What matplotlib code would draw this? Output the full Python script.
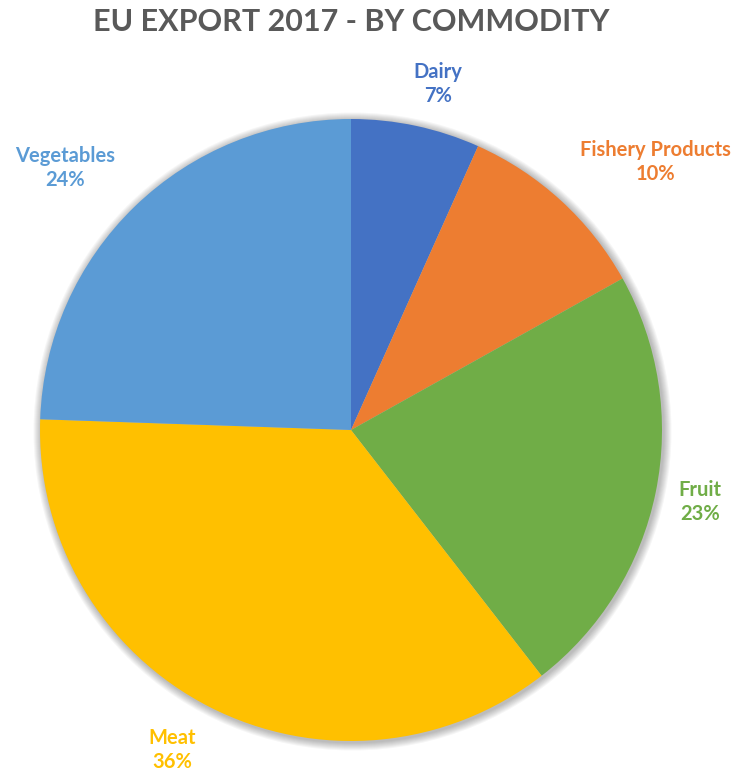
import matplotlib.pyplot as plt
from matplotlib.patches import Circle

# commodity shares of EU exports, 2017 (%)
commodities = ['Dairy', 'Fishery Products', 'Fruit', 'Meat', 'Vegetables']
shares = [6.7, 10.2, 22.6, 36.05, 24.45]
colors = ['#4472C4', '#ED7D31', '#70AD47', '#FFC000', '#5B9BD5']

# label anchor points (pixels from top-left of the figure)
label_xy = [(438, 84), (655, 162), (700, 502), (172, 750), (65, 168)]

W, H = 736, 775
fig = plt.figure(figsize=(W / 100, H / 100), dpi=100)
ax = fig.add_axes([0, 0, 1, 1])

cx, cy, r = 351, H - 430, 311

# soft drop shadow under the pie
for k in range(8):
    ax.add_patch(Circle((cx + 1.5, cy - 1.5), r + 1 + k, color='black',
                        alpha=0.035, linewidth=0, zorder=0))

ax.pie(shares, colors=colors, startangle=90, counterclock=False,
       center=(cx, cy), radius=r, frame=True,
       wedgeprops=dict(linewidth=0, zorder=2))
ax.set_xlim(0, W)
ax.set_ylim(0, H)
ax.set_aspect('equal')
ax.axis('off')

total = sum(shares)
for name, val, col, (lx, ly) in zip(commodities, shares, colors, label_xy):
    pct = round(100 * val / total)
    ax.text(lx, H - ly, f'{name}\n{pct}%', color=col, ha='center', va='center',
            fontsize=14.5, fontweight='bold', family=['Lato', 'DejaVu Sans'],
            linespacing=1.2)

fig.text(351 / W, 1 - 22 / H, 'EU EXPORT 2017 - BY COMMODITY', ha='center', va='center',
         fontsize=22, fontweight='bold', color='#595959', family=['Lato', 'DejaVu Sans'])

fig.savefig('out.png', dpi=100)
